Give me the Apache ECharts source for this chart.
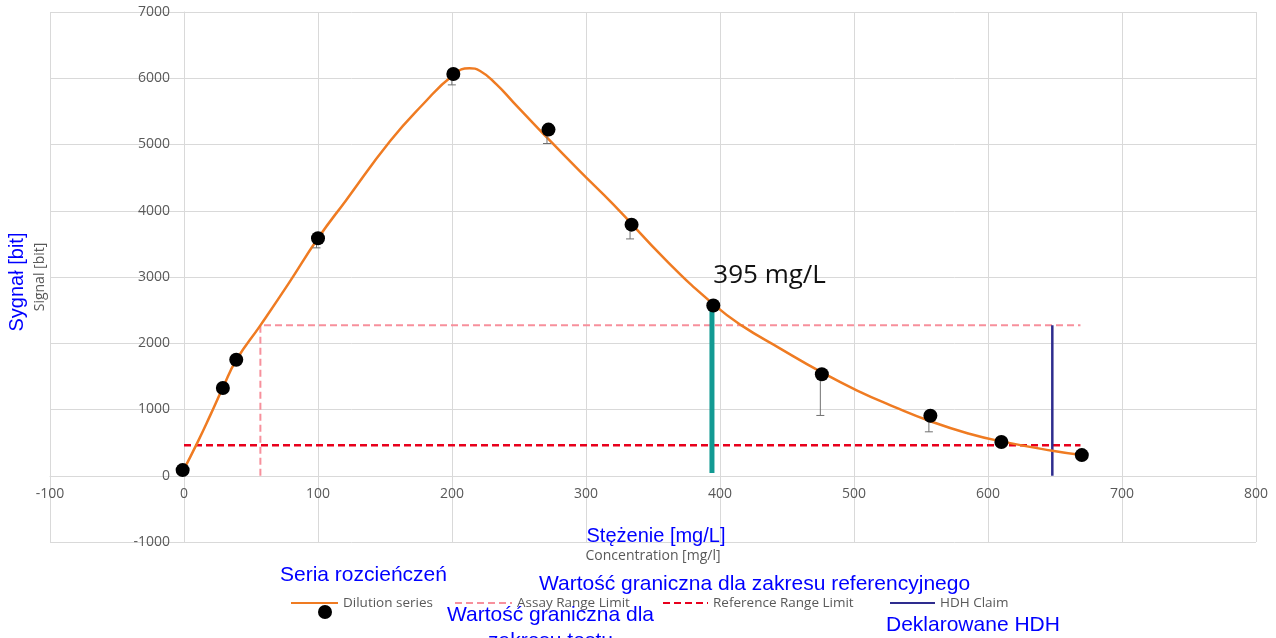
<!DOCTYPE html>
<html>
<head>
<meta charset="utf-8">
<script src="https://cdn.jsdelivr.net/npm/echarts@6/dist/echarts.min.js"></script>
<style>
html,body{margin:0;padding:0;background:#fff;}
#chart{width:1276px;height:638px;}
</style>
</head>
<body>
<div id="chart"></div>
<script>
// ---- axis ranges / ticks ----
const xMin = -100, xMax = 800, xStep = 100;
const yMin = -1000, yMax = 7000, yStep = 1000;

// ---- dilution series measured points ----
const pointX = [-1, 29, 39, 100, 201, 272, 334, 395, 476, 557, 610, 670];
const pointY = [85, 1325, 1750, 3585, 6065, 5225, 3790, 2570, 1532, 905, 510, 312];
// lower end of error bars (null = none visible)
const errLow = [null, null, null, 3440, 5900, 5015, 3575, null, 910, 663, null, null];

// ---- smoothed trend curve ----
const curveX = [-1, 10, 20, 29, 39, 57, 78, 100, 121, 154, 178, 201, 213, 221, 233, 246, 266, 295, 320, 360, 395, 416, 445, 476, 502, 530, 558, 586, 609, 648, 670];
const curveY = [60, 500, 930, 1330, 1745, 2270, 2900, 3585, 4160, 5056, 5600, 6050, 6150, 6110, 5910, 5633, 5206, 4604, 4102, 3248, 2590, 2270, 1920, 1560, 1290, 1040, 815, 634, 523, 377, 312];

// ---- limits / claims ----
const assayLimit = 2270, assayStartX = 57, limitEndX = 669;
const refLimit = 462, refStartX = 0;
const hdhX = 648, hdhBottom = 0, hdhTop = 2270;
const markX = 394, markBottom = 40, markTop = 2560;
const markLabelX = 395, markLabelY = 2570, markLabelText = '395 mg/L';

// ---- texts ----
const seriesNames = ['Dilution series', 'Assay Range Limit', 'Reference Range Limit', 'HDH Claim'];
const xName = 'Concentration [mg/l]', yName = 'Signal [bit]';
const plXName = 'Stężenie [mg/L]', plYName = 'Sygnał [bit]';
const plTexts = ['Seria rozcieńczeń', 'Wartość graniczna dla zakresu referencyjnego', 'Wartość graniczna dla', 'zakresu testu', 'Deklarowane HDH'];

const gray = '#595959';
const gridColor = '#d9d9d9';
const blue = '#0000ff';
const pts = pointX.map((x, i) => [x, pointY[i]]);
const curve = curveX.map((x, i) => [x, curveY[i]]);
const errData = pointX.map((x, i) => [x, pointY[i], errLow[i]]).filter(d => d[2] != null);

// layout of the plot area
const gridLeft = 50, gridRight = 20, gridTop = 12, gridBottom = 96;
const W = 1276, H = 638;
const plotW = W - gridLeft - gridRight, plotH = H - gridTop - gridBottom;
// axes cross at zero: shift them inward from the grid edges
const xAxisOffset = -plotH * (0 - yMin) / (yMax - yMin);
const yAxisOffset = -plotW * (0 - xMin) / (xMax - xMin);

const chart = echarts.init(document.getElementById('chart'), null, {renderer: 'canvas'});

function legendAt(name, left, w, extra) {
  return Object.assign({
    data: [name], left: left, top: 596, padding: 0, itemWidth: w, itemHeight: 14,
    textStyle: {color: gray, fontSize: 13.5, fontFamily: 'Open Sans'},
    itemStyle: {opacity: 0},
    selectedMode: false
  }, extra || {});
}

const option = {
  animation: false,
  backgroundColor: '#fff',
  grid: {left: gridLeft, right: gridRight, top: gridTop, bottom: gridBottom, containLabel: false, outerBoundsMode: 'none'},
  xAxis: {
    type: 'value', min: xMin, max: xMax, interval: xStep, offset: xAxisOffset,
    name: xName, nameLocation: 'middle', nameGap: 73,
    nameTextStyle: {color: gray, fontSize: 14, fontFamily: 'Open Sans'},
    axisLine: {show: true, onZero: false, lineStyle: {color: gridColor, width: 1}},
    axisTick: {show: false},
    axisLabel: {color: gray, fontSize: 14, fontFamily: 'Open Sans', margin: 11, formatter: v => String(v)},
    splitLine: {show: true, lineStyle: {color: gridColor, width: 1}}
  },
  yAxis: {
    type: 'value', min: yMin, max: yMax, interval: yStep, offset: yAxisOffset,
    name: yName, nameLocation: 'middle', nameGap: 137,
    nameTextStyle: {color: gray, fontSize: 14, fontFamily: 'Open Sans'},
    axisLine: {show: true, onZero: false, lineStyle: {color: gridColor, width: 1}},
    axisTick: {show: false},
    axisLabel: {color: gray, fontSize: 14, fontFamily: 'Open Sans', margin: 14, formatter: v => String(v)},
    splitLine: {show: true, lineStyle: {color: gridColor, width: 1}}
  },
  legend: [
    legendAt(seriesNames[0], 290, 47),
    legendAt('pointsLegend', 318, 14, {top: 605, formatter: () => '', icon: 'circle', itemStyle: {opacity: 1}}),
    legendAt(seriesNames[1], 454, 57),
    legendAt(seriesNames[2], 662, 45),
    legendAt(seriesNames[3], 889, 45)
  ],
  series: [
    {
      name: seriesNames[1], type: 'line', data: [[assayStartX, 0], [assayStartX, assayLimit], [limitEndX, assayLimit]],
      symbol: 'none', lineStyle: {color: '#f7909c', width: 2, type: [7, 4]}, itemStyle: {color: '#f7909c'}, z: 2
    },
    {
      name: seriesNames[2], type: 'line', data: [[refStartX, refLimit], [limitEndX, refLimit]],
      symbol: 'none', lineStyle: {color: '#e8001c', width: 2.5, type: [7, 4]}, itemStyle: {color: '#e8001c'}, z: 2
    },
    {
      name: seriesNames[3], type: 'line', data: [[hdhX, hdhBottom], [hdhX, hdhTop]],
      symbol: 'none', lineStyle: {color: '#2e2c8e', width: 2.5}, itemStyle: {color: '#2e2c8e'}, z: 2
    },
    {
      name: 'marker', type: 'line', data: [[markX, markBottom], [markX, markTop]],
      symbol: 'none', lineStyle: {color: '#129a93', width: 5}, itemStyle: {color: '#129a93'}, z: 3
    },
    {
      name: seriesNames[0], type: 'line', data: curve, smooth: 0.5,
      symbol: 'none', lineStyle: {color: '#ef7b22', width: 2.5}, itemStyle: {color: '#ef7b22'}, z: 4
    },
    {
      name: 'errorBars', type: 'custom', data: errData, z: 5,
      renderItem: function (params, api) {
        const p1 = api.coord([api.value(0), api.value(1)]);
        const p2 = api.coord([api.value(0), api.value(2)]);
        const st = {stroke: '#707070', lineWidth: 1};
        return {type: 'group', children: [
          {type: 'line', shape: {x1: p1[0] - 1.5, y1: p1[1], x2: p2[0] - 1.5, y2: p2[1]}, style: st},
          {type: 'line', shape: {x1: p2[0] - 5.5, y1: p2[1], x2: p2[0] + 2.5, y2: p2[1]}, style: st}
        ]};
      }
    },
    {
      name: 'pointsLegend', type: 'scatter', data: pts, symbol: 'circle', symbolSize: 14,
      itemStyle: {color: '#000', opacity: 1}, z: 6
    },
    {
      name: 'annotation', type: 'scatter', data: [[markLabelX, markLabelY]], symbolSize: 0, z: 7,
      itemStyle: {opacity: 1},
      label: {show: true, formatter: markLabelText, position: [0, -30], align: 'left', verticalAlign: 'middle',
        color: '#111', fontSize: 26, fontFamily: 'Open Sans'}
    }
  ],
  graphic: [
    {type: 'text', x: 17, y: 282, rotation: Math.PI / 2, z: 100,
      style: {text: plYName, fill: blue, font: '20px "Liberation Sans"', textAlign: 'center', textVerticalAlign: 'middle'}},
    {type: 'text', x: 656, y: 536, z: 100,
      style: {text: plXName, fill: blue, font: '20px "Liberation Sans"', textAlign: 'center', textVerticalAlign: 'middle'}},
    {type: 'text', x: 280, y: 575, z: 100,
      style: {text: plTexts[0], fill: blue, font: '21px "Liberation Sans"', textAlign: 'left', textVerticalAlign: 'middle'}},
    {type: 'text', x: 539, y: 584, z: 100,
      style: {text: plTexts[1], fill: blue, font: '21px "Liberation Sans"', textAlign: 'left', textVerticalAlign: 'middle'}},
    {type: 'text', x: 447, y: 615, z: 100,
      style: {text: plTexts[2], fill: blue, font: '21px "Liberation Sans"', textAlign: 'left', textVerticalAlign: 'middle'}},
    {type: 'text', x: 488, y: 641, z: 100,
      style: {text: plTexts[3], fill: blue, font: '21px "Liberation Sans"', textAlign: 'left', textVerticalAlign: 'middle'}},
    {type: 'text', x: 886, y: 625, z: 100,
      style: {text: plTexts[4], fill: blue, font: '21px "Liberation Sans"', textAlign: 'left', textVerticalAlign: 'middle'}}
  ]
};
chart.setOption(option);
</script>
</body>
</html>
